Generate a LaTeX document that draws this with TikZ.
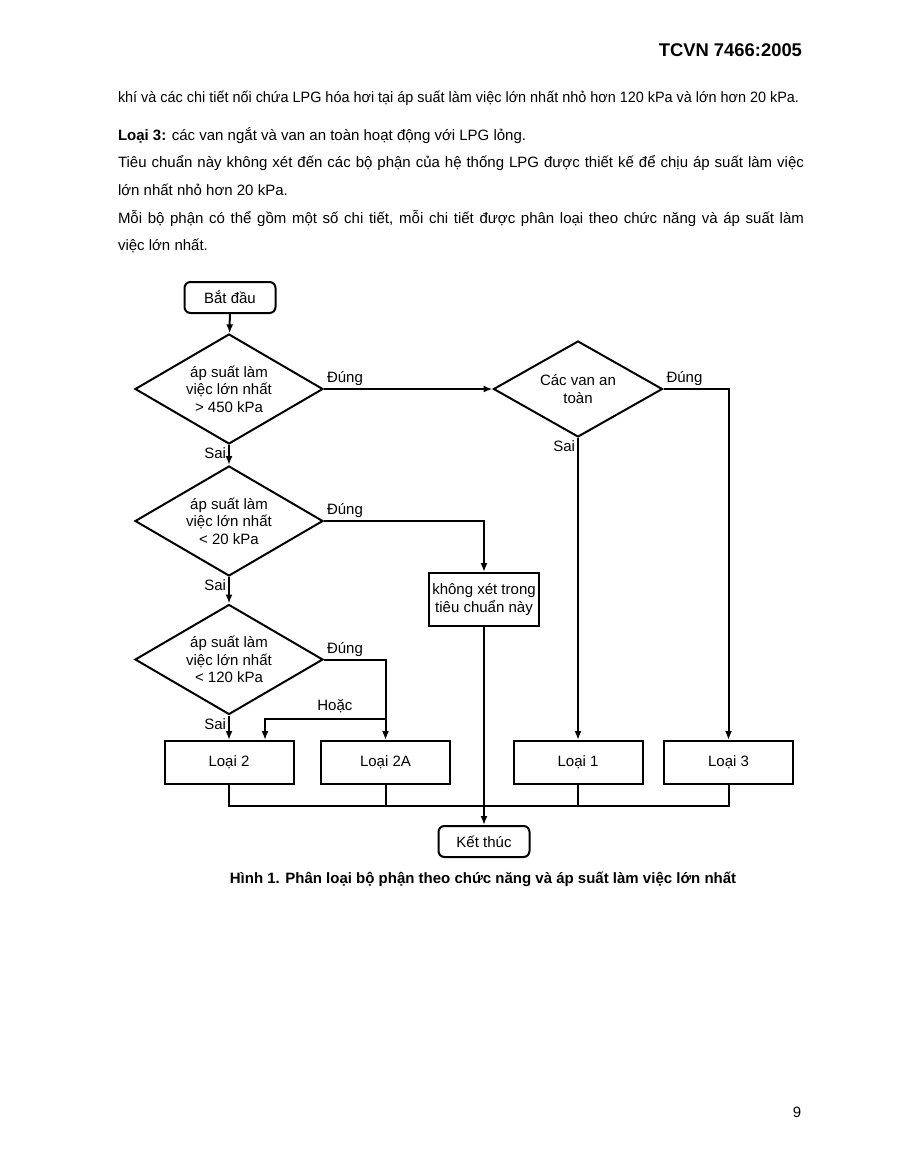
\documentclass[tikz,border=0pt]{standalone}
\usepackage{graphicx}
\usepackage{fontspec}
\setmainfont{Liberation Sans}
\usetikzlibrary{positioning,arrows,arrows.meta,calc,shapes}
\newcommand{\chartfont}{\fontsize{15}{17.5}\selectfont}
\newcommand{\bodyfont}{\fontsize{15}{18}\selectfont}
\newcommand{\headfont}{\fontsize{18.4}{20}\selectfont\bfseries}
\tikzset{
    x=1pt,
    y=-1pt,
    >={Latex[length=9pt,width=7pt]},
    decision/.style = {
        draw,
        shape=diamond,
        aspect=1.74,
        minimum width=188pt,
        minimum height=110pt,
        inner sep=0pt,
        align=center,
        font=\chartfont
    },
    terminal/.style = {
        draw,
        shape=rectangle,
        rounded corners=6pt,
        minimum width=91pt,
        minimum height=31pt,
        font=\chartfont
    },
    category/.style = {
        draw,
        shape=rectangle,
        minimum width=129pt,
        minimum height=43pt,
        font=\chartfont
    },
    answer/.style = {
        font=\chartfont,
        inner sep=2pt
    },
    bodytext/.style = {
        anchor=base west,
        inner sep=0pt,
        font=\bodyfont
    },
}

\begin{document}
\begin{tikzpicture}[line width=2pt]
            \fill[white] (0,0) rectangle (898,1162);
            \useasboundingbox (0,0) rectangle (898,1162);

            % page text
            \node[bodytext, anchor=base east, font=\headfont] (header) at (803,56.5) {TCVN 7466:2005};
            \node[bodytext] (line1) at (117,102) {\resizebox{681pt}{\height}{khí và các chi tiết nối chứa LPG hóa hơi tại áp suất làm việc lớn nhất nhỏ hơn 120 kPa và lớn hơn 20 kPa.}};
            \node[bodytext] (line2) at (117,140) {\textbf{Loại 3:} các van ngắt và van an toàn hoạt động với LPG lỏng.};
            \node[bodytext] (line3) at (117,167) {\makebox[686pt][s]{Tiêu chuẩn này không xét đến các bộ phận của hệ thống LPG được thiết kế để chịu áp suất làm việc}};
            \node[bodytext] (line4) at (117,195) {lớn nhất nhỏ hơn 20 kPa.};
            \node[bodytext] (line5) at (117,223) {\makebox[686pt][s]{Mỗi bộ phận có thể gồm một số chi tiết, mỗi chi tiết được phân loại theo chức năng và áp suất làm}};
            \node[bodytext] (line6) at (117,250) {việc lớn nhất.};

            % flowchart
            \node[terminal] (start) at (230,297.5) {Bắt đầu};
            \node[decision] (high) at (229,389) {áp suất làm\\việc lớn nhất\\> 450 kPa};
            \node[decision, minimum width=169pt, minimum height=96pt, aspect=1.76] (valve) at (578,389) {Các van an\\toàn};
            \node[decision] (low) at (229,521) {áp suất làm\\việc lớn nhất\\< 20 kPa};
            \node[category, minimum width=110pt, minimum height=53pt, align=center] (excluded) at (484,599.5) {không xét trong\\tiêu chuẩn này};
            \node[decision] (mid) at (229,659.5) {áp suất làm\\việc lớn nhất\\< 120 kPa};
            \node[category] (class2) at (229,762.5) {Loại 2};
            \node[category] (class2a) at (385.5,762.5) {Loại 2A};
            \node[category] (class1) at (578,762.5) {Loại 1};
            \node[category] (class3) at (728.5,762.5) {Loại 3};
            \node[terminal] (finish) at (484,841.5) {Kết thúc};

            \path[draw, ->] (start) -- (high);
            \path[draw, ->] (high.east) -- (valve.west) node [pos=0, answer, anchor=south west] {Đúng};
            \path[draw, ->] (high.south) -- (low.north) node [pos=0, answer, anchor=north east] {Sai};
            \path[draw, ->] (valve.east) -| (class3.north) node [pos=0, answer, anchor=south west] {Đúng};
            \path[draw, ->] (valve.south) -- (class1.north) node [pos=0, answer, anchor=north east] {Sai};
            \path[draw, ->] (low.east) -| (excluded.north) node [pos=0, answer, anchor=south west] {Đúng};
            \path[draw, ->] (low.south) -- (mid.north) node [pos=0, answer, anchor=north east] {Sai};
            \path[draw, ->] (mid.east) -| (class2a.north) node [pos=0, answer, anchor=south west] {Đúng};
            \path[draw, ->] (mid.south) -- (class2.north) node [pos=0, answer, anchor=north east] {Sai};

            \coordinate (either) at (385.5,719);
            \path[draw, ->] (either) -| ([xshift=36pt]class2.north) node [pos=0.21, answer, above, yshift=3pt] {Hoặc};

            \coordinate (bus) at (0,806);
            \path[draw] (class2.south) |- (bus -| class3.south) -- (class3.south);
            \path[draw] (class2a.south) -- (class2a.south |- bus);
            \path[draw] (class1.south) -- (class1.south |- bus);
            \path[draw, ->] (excluded.south) -- (finish.north);

            \node[bodytext, anchor=base, font=\bodyfont\bfseries] (caption) at (483,883) {Hình 1. Phân loại bộ phận theo chức năng và áp suất làm việc lớn nhất};
            \node[bodytext, anchor=base] (page) at (797,1117) {9};

        \end{tikzpicture}
\end{document}
